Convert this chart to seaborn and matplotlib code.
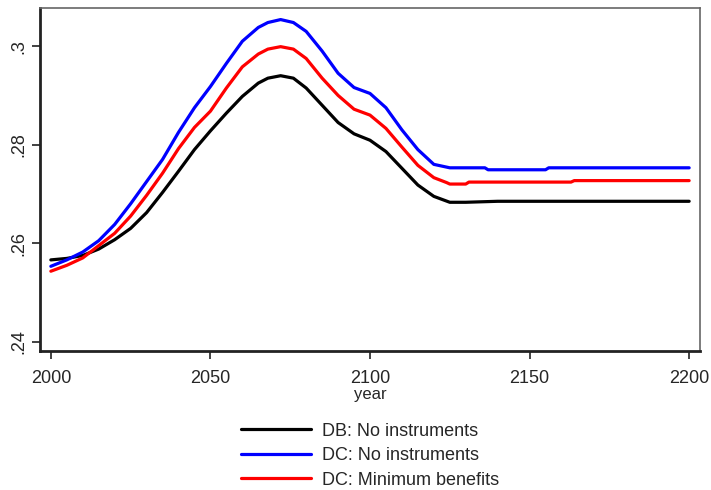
import matplotlib
matplotlib.use("Agg")
import matplotlib.pyplot as plt
import seaborn as sns
import pandas as pd

# ---- data ----
years_db = [2000, 2005, 2010, 2015, 2020, 2025, 2030, 2035, 2040, 2045, 2050, 2055, 2060,
            2065, 2068, 2072, 2076, 2080, 2085, 2090, 2095, 2100, 2105, 2110, 2115, 2120,
            2125, 2130, 2135, 2140, 2200]
db_no_instr = [.2566, .2569, .2575, .2588, .2607, .2630, .2662, .2703, .2746, .2790, .2828,
               .2864, .2898, .2925, .2935, .2940, .2935, .2915, .2880, .2845, .2822, .2809,
               .2786, .2752, .2718, .2695, .2683, .2683, .2684, .2685, .2685]

years_dc = [2000, 2005, 2010, 2015, 2020, 2025, 2030, 2035, 2040, 2045, 2050, 2055, 2060,
            2065, 2068, 2072, 2076, 2080, 2085, 2090, 2095, 2100, 2105, 2110, 2115, 2120,
            2125, 2130, 2136, 2137, 2155, 2156, 2200]
dc_no_instr = [.2553, .2566, .2582, .2605, .2638, .2680, .2725, .2770, .2825, .2875, .2918,
               .2965, .3010, .3038, .3048, .3054, .3048, .3030, .2990, .2945, .2916, .2904,
               .2875, .2830, .2790, .2760, .2753, .2753, .2753, .2749, .2749, .2753, .2753]

years_min = [2000, 2005, 2010, 2015, 2020, 2025, 2030, 2035, 2040, 2045, 2050, 2055, 2060,
             2065, 2068, 2072, 2076, 2080, 2085, 2090, 2095, 2100, 2105, 2110, 2115, 2120,
             2124, 2125, 2130, 2131, 2163, 2164, 2200]
dc_min_ben = [.2543, .2555, .2570, .2595, .2620, .2655, .2697, .2742, .2792, .2835, .2868,
              .2915, .2958, .2984, .2994, .2999, .2994, .2975, .2935, .2900, .2872, .2860,
              .2833, .2795, .2758, .2733, .2723, .2720, .2720, .2724, .2724, .2727, .2727]

series_names = ["DB: No instruments", "DC: No instruments", "DC: Minimum benefits"]
series_colors = ["black", "blue", "red"]

x_ticks = [2000, 2050, 2100, 2150, 2200]
y_ticks = [.24, .26, .28, .30]
y_tick_labels = [".24", ".26", ".28", ".3"]

# ---- build long table ----
frames = []
for name, yrs, vals in zip(series_names, [years_db, years_dc, years_min],
                           [db_no_instr, dc_no_instr, dc_min_ben]):
    frames.append(pd.DataFrame({"year": yrs, "value": vals, "series": name}))
df = pd.concat(frames, ignore_index=True)

sns.set_theme(style="white")
plt.rcParams["font.family"] = ["Liberation Sans", "DejaVu Sans"]

fig = plt.figure(figsize=(7.11, 4.90), dpi=100)
ax = fig.add_axes([40 / 711, 1 - 351 / 490, 660 / 711, 343 / 490])

sns.lineplot(data=df, x="year", y="value", hue="series", hue_order=series_names,
             palette=dict(zip(series_names, series_colors)), linewidth=2.3,
             ax=ax, legend=True, estimator=None, sort=True)

ax.set_xlim(1996.6, 2203.4)
ax.set_ylim(0.2381, 0.30775)
ax.set_xticks(x_ticks)
ax.set_xticklabels([str(t) for t in x_ticks], fontsize=13)
ax.set_yticks(y_ticks)
ax.set_yticklabels(y_tick_labels, fontsize=13, rotation=90, va="center")
ax.set_xlabel("year", fontsize=12, labelpad=0)
ax.set_ylabel("")

ax.tick_params(axis="both", direction="out", length=6, width=1.3, color="#333333",
               left=True, bottom=True)
ax.tick_params(axis="x", pad=8)
ax.tick_params(axis="y", pad=3)

for s in ["top", "right"]:
    ax.spines[s].set_color("#666666")
    ax.spines[s].set_linewidth(1.2)
for s in ["left", "bottom"]:
    ax.spines[s].set_color("#222222")
    ax.spines[s].set_linewidth(2.0)

handles, labels = ax.get_legend_handles_labels()
ax.get_legend().remove()
leg = fig.legend(handles, labels, loc="center", bbox_to_anchor=(0.52, 0.070),
                 frameon=False, fontsize=13, handlelength=3.9, handletextpad=0.6,
                 labelspacing=0.42)
for h in leg.get_lines():
    h.set_linewidth(2.3)

fig.savefig("out.png", dpi=100)
